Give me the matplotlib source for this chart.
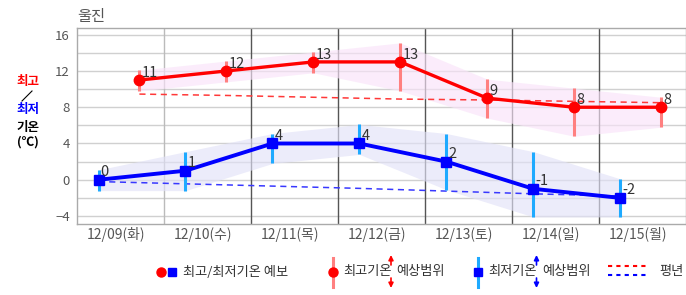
import matplotlib
matplotlib.use('Agg')
import matplotlib.pyplot as plt
import numpy as np

plt.rcParams['font.family'] = ['Noto Sans CJK KR', 'DejaVu Sans']

# data
days = ['12/09(화)', '12/10(수)', '12/11(목)', '12/12(금)', '12/13(토)', '12/14(일)', '12/15(월)']
tmax = [11, 12, 13, 13, 9, 8, 8]
tmax_lo = [9.8, 10.8, 11.8, 9.8, 6.8, 4.8, 5.8]
tmax_hi = [12.1, 13.1, 14.1, 15.1, 11.1, 10.1, 9.1]
tmin = [0, 1, 4, 4, 2, -1, -2]
tmin_lo = [-1.2, -1.2, 1.8, 2.8, -1.1, -4.1, -4.1]
tmin_hi = [1.1, 3.1, 5.1, 6.1, 5.1, 3.1, 0.1]
norm_max = [9.45, 9.3, 9.1, 8.9, 8.8, 8.65, 8.5]
norm_min = [-0.2, -0.45, -0.7, -0.95, -1.25, -1.55, -1.8]

W, H = 686, 295
fig = plt.figure(figsize=(W / 100, H / 100), dpi=100)
ax = fig.add_axes([76.8 / W, 1 - 224 / H, (685.5 - 76.8) / W, (224 - 28) / H])

idx = np.arange(len(days))
x_min = idx + 0.25
x_max = idx + 0.72

# grid
for yy in range(-4, 17, 2):
    ax.axhline(yy, color='#d0d0d0', lw=1, zorder=0)
ax.axvline(1, color='#bbbbbb', lw=1, zorder=0)
for xx in range(2, 7):
    ax.axvline(xx, color='#555555', lw=1, zorder=0)

# expected range bands
ax.fill_between(x_max, tmax_lo, tmax_hi, color='#f9e3f9', alpha=0.65, lw=0, zorder=1)
ax.fill_between(x_min, tmin_lo, tmin_hi, color='#e2e2f8', alpha=0.65, lw=0, zorder=1)

# normals
ax.plot(x_max, norm_max, color='#ff3838', lw=1.1, dashes=(4, 3), zorder=2)
ax.plot(x_min, norm_min, color='#3838ff', lw=1.1, dashes=(4, 3), zorder=2)

# error bars
ax.vlines(x_max, tmax_lo, tmax_hi, color='#ff8080', lw=2.2, zorder=3)
ax.vlines(x_min, tmin_lo, tmin_hi, color='#1eaaff', lw=2.2, zorder=3)

# forecast lines
ax.plot(x_max, tmax, color='red', lw=2.4, marker='o', ms=7.5, zorder=4)
ax.plot(x_min, tmin, color='blue', lw=2.8, marker='s', ms=7.5, zorder=4)

for xv, v in zip(x_max, tmax):
    ax.annotate(str(v), (xv, v), xytext=(1.5, 5), textcoords='offset points',
                ha='left', va='center', fontsize=10.5, color='#333333', zorder=6)
for xv, v in zip(x_min, tmin):
    ax.annotate(str(v), (xv, v), xytext=(1.5, 5.5), textcoords='offset points',
                ha='left', va='center', fontsize=10.5, color='#333333', zorder=6)

ax.set_xlim(0, 7)
ax.set_ylim(-4.88, 16.74)
ax.set_yticks([-4, 0, 4, 8, 12, 16])
ax.set_xticks(idx + 0.45)
ax.set_xticklabels(days)
ax.tick_params(length=0, colors='#555555')
ax.tick_params(axis='x', pad=2, labelsize=10)
ax.tick_params(axis='y', pad=5, labelsize=9.5)
for s in ax.spines.values():
    s.set_color('#aaaaaa')
    s.set_linewidth(1)

# overlay in pixel coordinates for title, y label and legend
lg = fig.add_axes([0, 0, 1, 1])
lg.set_xlim(0, W)
lg.set_ylim(H, 0)
lg.axis('off')

lg.text(77, 16, '울진', fontsize=11, color='#555555', ha='left', va='center')

lg.text(28, 81, '최고', fontsize=9, weight='bold', color='red', ha='center', va='center')
lg.plot([22, 32], [101, 91], color='black', lw=0.8)
lg.text(28, 109, '최저', fontsize=9, weight='bold', color='blue', ha='center', va='center')
lg.text(28, 127.5, '기온', fontsize=9, weight='bold', color='black', ha='center', va='center')
lg.text(28, 142, '(℃)', fontsize=9, weight='bold', color='black', ha='center', va='center')

y0 = 272
txt = dict(fontsize=9.5, color='#333333', ha='left', va='center')
arr = dict(lw=1.2, mutation_scale=7, shrinkA=0, shrinkB=0)
lg.plot(161, y0, 'o', color='red', ms=6.5)
lg.plot(172, y0, 's', color='blue', ms=6)
lg.text(183, y0, '최고/최저기온 예보', **txt)

lg.plot([333, 333], [258, 287], color='#ff8080', lw=2.2)
lg.plot(333, y0, 'o', color='red', ms=6.5)
lg.text(343, y0, '최고기온', **txt)
lg.annotate('', xy=(391, 255), xytext=(391, 265), arrowprops=dict(arrowstyle='-|>', color='red', **arr))
lg.annotate('', xy=(391, 288), xytext=(391, 278), arrowprops=dict(arrowstyle='-|>', color='red', **arr))
lg.text(396, y0, '예상범위', **txt)

lg.plot([478, 478], [258, 287], color='#1eaaff', lw=2.2)
lg.plot(478, y0, 's', color='blue', ms=6)
lg.text(488, y0, '최저기온', **txt)
lg.annotate('', xy=(536.5, 255), xytext=(536.5, 265), arrowprops=dict(arrowstyle='-|>', color='blue', **arr))
lg.annotate('', xy=(536.5, 288), xytext=(536.5, 278), arrowprops=dict(arrowstyle='-|>', color='blue', **arr))
lg.text(542, y0, '예상범위', **txt)

lg.plot([608, 648], [266, 266], color='red', lw=1.5, dashes=(2, 2))
lg.plot([608, 648], [275, 275], color='blue', lw=1.5, dashes=(2, 2))
lg.text(659, y0, '평년', **txt)

fig.savefig('out.png', dpi=100)
